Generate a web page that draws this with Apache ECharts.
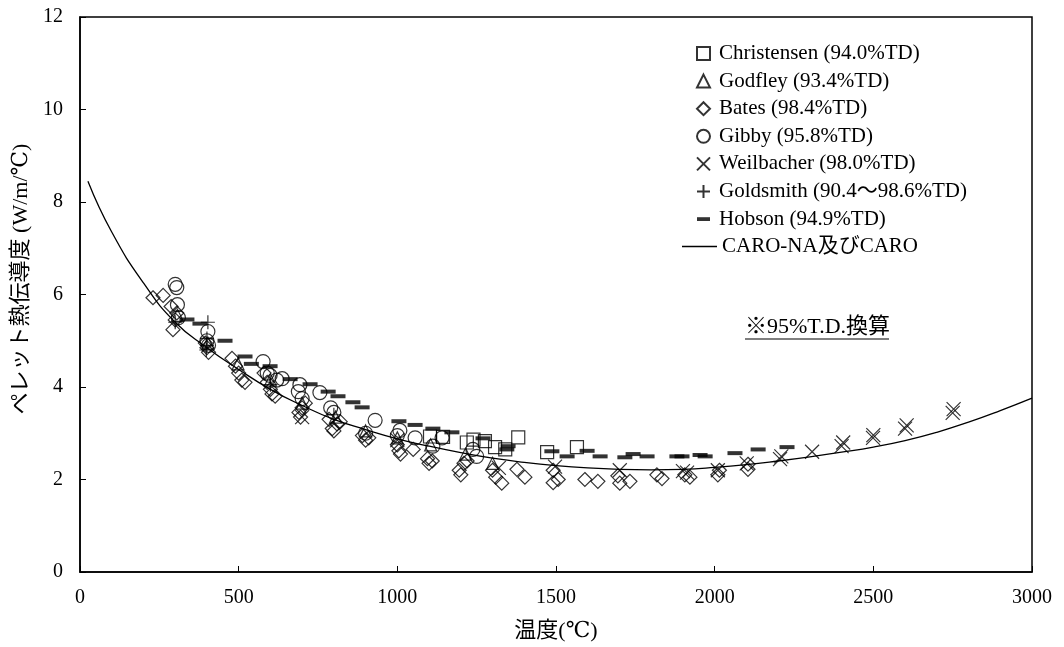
<!DOCTYPE html>
<html>
<head>
<meta charset="utf-8">
<script src="https://cdn.jsdelivr.net/npm/echarts@6/dist/echarts.min.js"></script>
<style>
  html, body { margin: 0; padding: 0; background: #fff; }
  #chart { width: 1064px; height: 647px; }
</style>
</head>
<body>
<div id="chart"></div>
<script>
// 温度(℃) と ペレット熱伝導度(W/m/℃) の読み取り値
var xTicks = [0, 500, 1000, 1500, 2000, 2500, 3000];
var yTicks = [0, 2, 4, 6, 8, 10, 12];

var christensen = [[1103,2.93],[1144,2.92],[1219,2.8],[1240,2.86],[1276,2.83],[1308,2.7],
  [1340,2.65],[1381,2.91],[1472,2.59],[1566,2.70]];
var godfley = [[307,5.55],[403,4.95],[498,4.5],[600,4.15],[700,3.65],[805,3.35],[900,3.05],
  [1000,2.9],[1105,2.75],[1215,2.55],[1300,2.35]];
var bates = [[230,5.93],[262,5.98],[287,5.74],[293,5.24],[300,5.45],[305,5.6],[395,4.95],[400,4.85],
  [405,4.75],[479,4.62],[490,4.45],[500,4.3],[510,4.15],[520,4.1],[580,4.3],[590,4.1],[600,3.95],
  [605,3.85],[615,3.8],[690,3.45],[695,3.35],[700,3.55],[710,3.65],[785,3.3],[795,3.1],[800,3.05],
  [810,3.2],[820,3.25],[890,2.95],[900,2.85],[910,2.9],[1000,2.75],[1005,2.62],[1010,2.55],
  [1050,2.65],[1095,2.45],[1100,2.35],[1110,2.4],[1195,2.2],[1200,2.1],[1210,2.35],[1220,2.4],
  [1300,2.2],[1310,2.05],[1329,1.92],[1377,2.22],[1402,2.05],[1491,2.2],[1491,1.93],[1507,2.0],
  [1591,2.0],[1632,1.96],[1695,2.08],[1701,1.92],[1733,1.96],[1818,2.1],[1834,2.02],[1906,2.1],
  [1922,2.05],[2010,2.1],[2015,2.2],[2105,2.33],[2105,2.22]];
var gibby = [[300,6.22],[305,6.15],[307,5.78],[310,5.5],[403,5.2],[400,5.0],[405,4.9],[577,4.55],
  [590,4.3],[599,4.25],[620,4.15],[637,4.18],[688,3.9],[693,4.05],[700,3.75],[756,3.88],[790,3.55],
  [800,3.45],[900,3.0],[930,3.28],[1000,2.95],[1008,3.06],[1056,2.9],[1112,2.72],[1141,2.9],
  [1238,2.65],[1250,2.5]];
var weilbacher = [[700,3.35],[1000,2.85],[1320,2.25],[1497,2.28],[1701,2.2],[1900,2.18],[1913,2.15],
  [2010,2.2],[2101,2.35],[2206,2.44],[2210,2.5],[2307,2.6],[2400,2.72],[2405,2.8],[2499,2.9],
  [2500,2.96],[2600,3.1],[2605,3.17],[2750,3.44],[2753,3.52]];
var goldsmith = [[403,5.4],[400,5.05],[400,4.9],[398,4.8],[300,5.4],[600,4.05],[800,3.4]];
var hobson = [[337,5.46],[378,5.37],[457,5.0],[520,4.66],[540,4.5],[599,4.45],[662,4.17],[725,4.06],
  [782,3.9],[813,3.8],[860,3.67],[889,3.56],[1005,3.26],[1056,3.18],[1112,3.1],[1172,3.02],
  [1270,2.89],[1349,2.72],[1345,2.65],[1487,2.61],[1535,2.5],[1598,2.62],[1639,2.5],[1717,2.48],
  [1743,2.55],[1787,2.5],[1881,2.5],[1897,2.5],[1954,2.53],[1970,2.5],[2064,2.57],[2137,2.65],
  [2228,2.7]];

// CARO-NA及びCARO 曲線
var caroT = [25,100,200,300,400,500,600,700,800,900,1000,1100,1200,1300,1400,1500,1600,1700,
  1800,1900,2000,2100,2200,2300,2400,2500,2600,2700,2800,2900,3000];
var caroK = [8.45,7.35,6.25,5.4,4.85,4.38,3.95,3.6,3.3,3.08,2.88,2.72,2.58,2.46,2.37,2.3,2.25,2.22,
  2.21,2.22,2.26,2.32,2.4,2.49,2.59,2.7,2.84,3.02,3.24,3.49,3.76];

var names = ['Christensen (94.0%TD)', 'Godfley (93.4%TD)', 'Bates (98.4%TD)', 'Gibby (95.8%TD)',
  'Weilbacher (98.0%TD)', 'Goldsmith (90.4\uFF5E98.6%TD)', 'Hobson (94.9%TD)', 'CARO-NA及びCARO'];

var FONT = '"Liberation Serif", "DejaVu Serif", "Noto Sans CJK JP", serif';
var hollow = {color: 'rgba(255,255,255,0)', borderColor: '#000', borderWidth: 1.2};
var XMARK = 'path://M0,0L10,10M10,0L0,10';
var PLUS = 'path://M5,0V10M0,5H10';

function scat(name, data, symbol, size, style) {
  return {
    name: name, type: 'scatter', data: data, symbol: symbol, symbolSize: size,
    itemStyle: style || hollow, emphasis: {disabled: true}, z: 3
  };
}

var chart = echarts.init(document.getElementById('chart'));
chart.setOption({
  animation: false,
  backgroundColor: '#fff',
  grid: {left: 80, right: 32, top: 17, bottom: 74, show: true, borderColor: '#000', borderWidth: 1.5},
  xAxis: {
    type: 'value', min: 0, max: 3000, interval: 500,
    name: '温度(℃)', nameLocation: 'middle', nameGap: 48,
    nameTextStyle: {fontFamily: FONT, fontSize: 22, color: '#000'},
    axisLine: {lineStyle: {color: '#000', width: 1.5}},
    axisTick: {inside: true, length: 6, lineStyle: {color: '#000'}},
    axisLabel: {fontFamily: FONT, fontSize: 20, color: '#000', margin: 16,
      formatter: function(v) { return String(v); }},
    splitLine: {show: false}
  },
  yAxis: {
    type: 'value', min: 0, max: 12, interval: 2,
    name: 'ペレット熱伝導度 (W/m/℃)', nameLocation: 'middle', nameGap: 47,
    nameTextStyle: {fontFamily: FONT, fontSize: 22, color: '#000', padding: [0, 0, 0, 31]},
    axisLine: {lineStyle: {color: '#000', width: 1.5}},
    axisTick: {inside: true, length: 6, lineStyle: {color: '#000'}},
    axisLabel: {fontFamily: FONT, fontSize: 20, color: '#000', margin: 17},
    splitLine: {show: false}
  },
  legend: [{
    orient: 'vertical', left: 691, top: 38, itemWidth: 13, itemHeight: 13, itemGap: 6.6,
    selectedMode: false,
    textStyle: {fontFamily: FONT, fontSize: 21, color: '#000', padding: [0, 0, 0, 4]},
    data: [
      {name: names[0], icon: 'rect'},
      {name: names[1], icon: 'triangle'},
      {name: names[2], icon: 'diamond'},
      {name: names[3], icon: 'circle'},
      {name: names[4], icon: XMARK},
      {name: names[5], icon: PLUS},
      {name: names[6], icon: 'path://M0,5H12V8.5H0Z'}
    ]
  }, {
    orient: 'vertical', left: 677, top: 231, itemWidth: 35, itemHeight: 1.3,
    selectedMode: false,
    textStyle: {fontFamily: FONT, fontSize: 21, color: '#000'},
    data: [{name: names[7], icon: 'rect'}]
  }],
  graphic: [
    {type: 'text', left: 745, top: 316, style: {text: '※95%T.D.換算', font: '22px ' + FONT, fill: '#000'}},
    {type: 'line', shape: {x1: 745, y1: 339, x2: 889, y2: 339}, style: {stroke: '#000', lineWidth: 1.2}}
  ],
  series: [
    scat(names[0], christensen, 'rect', 13),
    scat(names[1], godfley, 'triangle', 12),
    scat(names[2], bates, 'diamond', 14),
    scat(names[3], gibby, 'circle', 14),
    scat(names[4], weilbacher, XMARK, 14),
    scat(names[5], goldsmith, PLUS, 14),
    scat(names[6], hobson, 'rect', [15, 4], {color: '#000', borderWidth: 0}),
    {
      name: names[7], type: 'line', smooth: true, symbol: 'none', z: 2,
      data: caroT.map(function(t, i) { return [t, caroK[i]]; }),
      lineStyle: {color: '#000', width: 1.3},
      itemStyle: {color: '#000'},
      emphasis: {disabled: true}
    }
  ]
});
</script>
</body>
</html>
